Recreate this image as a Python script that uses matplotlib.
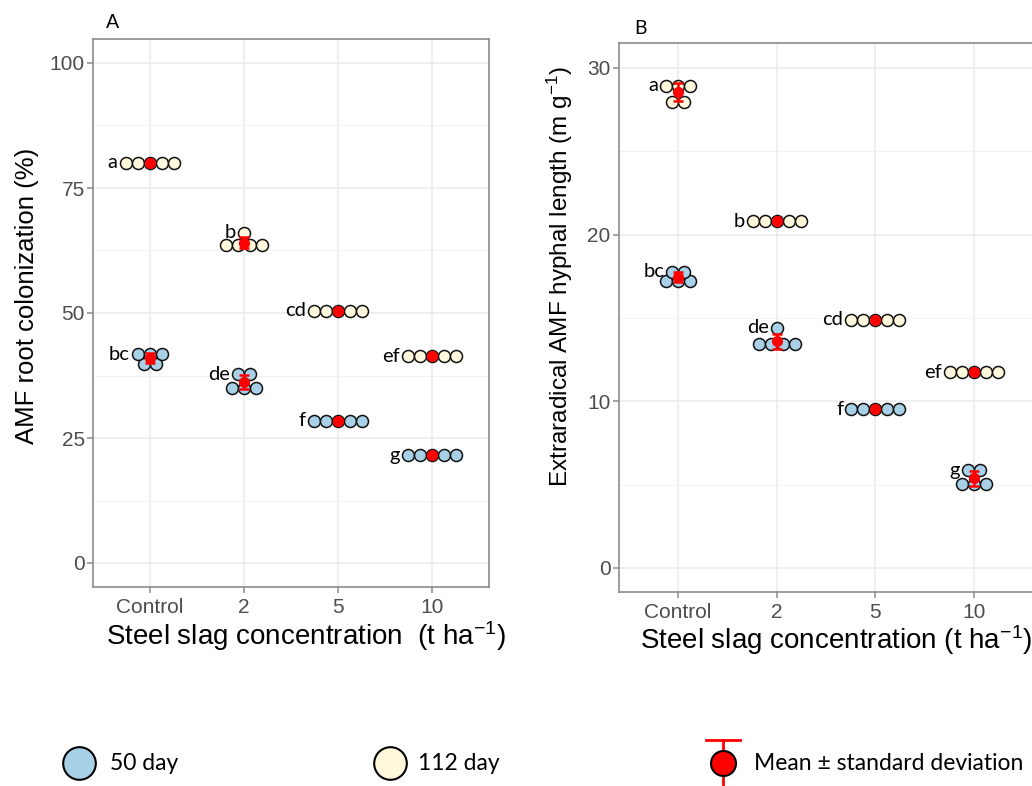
import numpy as np
import matplotlib
matplotlib.use('Agg')
import matplotlib.pyplot as plt
from matplotlib.ticker import MultipleLocator

plt.rcParams['font.family'] = ['Liberation Sans', 'DejaVu Sans']
plt.rcParams['mathtext.fontset'] = 'custom'
plt.rcParams['mathtext.rm'] = 'Liberation Sans'
plt.rcParams['mathtext.default'] = 'regular'

# Datos (5 repeticiones por tratamiento)
categorias = ['Control', '2', '5', '10']

# Panel A: colonización de raíces por AMF (%)
colon_50 = [[41.8, 41.8, 41.8, 39.9, 39.9],
            [37.8, 37.8, 35.1, 35.1, 35.1],
            [28.4, 28.4, 28.4, 28.4, 28.4],
            [21.6, 21.6, 21.6, 21.6, 21.6]]
colon_112 = [[80.0, 80.0, 80.0, 80.0, 80.0],
             [66.0, 63.6, 63.6, 63.6, 63.6],
             [50.4, 50.4, 50.4, 50.4, 50.4],
             [41.4, 41.4, 41.4, 41.4, 41.4]]
letras_colon_50 = ['bc', 'de', 'f', 'g']
letras_colon_112 = ['a', 'b', 'cd', 'ef']

# Panel B: longitud de hifas extrarradicales (m g-1)
hifas_50 = [[17.76, 17.76, 17.22, 17.22, 17.22],
            [14.41, 13.41, 13.41, 13.41, 13.41],
            [9.52, 9.52, 9.52, 9.52, 9.52],
            [5.87, 5.87, 5.03, 5.03, 5.03]]
hifas_112 = [[28.94, 28.94, 28.94, 27.94, 27.94],
             [20.79, 20.79, 20.79, 20.79, 20.79],
             [14.89, 14.89, 14.89, 14.89, 14.89],
             [11.74, 11.74, 11.74, 11.74, 11.74]]
letras_hifas_50 = ['bc', 'de', 'f', 'g']
letras_hifas_112 = ['a', 'b', 'cd', 'ef']

azul = '#A8D1E7'
crema = '#FFF8DC'
gris_txt = '#4D4D4D'
gris_borde = '#8C8C8C'

W, H = 1032, 786
fig = plt.figure(figsize=(W / 100, H / 100), dpi=100)


def px_rect(x0, y0, x1, y1):
    # convierte un rectángulo en píxeles (origen arriba) a fracción de figura
    return [x0 / W, 1 - y1 / H, (x1 - x0) / W, (y1 - y0) / H]


axA = fig.add_axes(px_rect(93, 39, 489, 587))
axB = fig.add_axes(px_rect(619, 43, 1033, 592))

DOT_PX = 12.0


def dibujar_grupo(ax, xc, valores, color, d, letra):
    vals, cuentas = np.unique(valores, return_counts=True)
    for v, n in zip(vals, cuentas):
        xs = xc + (np.arange(n) - (n - 1) / 2) * d
        ax.scatter(xs, [v] * n, s=(DOT_PX * 0.72) ** 2, color=color,
                   edgecolors='#111111', linewidths=1.1, zorder=3)
    media = np.mean(valores)
    sd = np.std(valores, ddof=1)
    ax.errorbar(xc, media, yerr=sd, fmt='o', color='red', ms=7,
                mec='red', capsize=3.5, elinewidth=1.8, capthick=1.8, zorder=5)
    top = vals.max()
    n_top = cuentas[-1]
    ax.annotate(letra, xy=(xc - n_top * d / 2, top), xytext=(-1.5, 0),
                textcoords='offset points', ha='right', va='center',
                fontsize=14.5, family=['Lato', 'DejaVu Sans'], color='black', zorder=6)


def estilo_panel(ax, ylim, minor, yticks):
    ax.set_xlim(0.4, 4.6)
    ax.set_ylim(*ylim)
    ax.set_xticks(range(1, 5))
    ax.set_xticklabels(categorias)
    ax.set_yticks(yticks)
    ax.yaxis.set_minor_locator(MultipleLocator(minor))
    ax.grid(which='major', color='#EBEBEB', linewidth=1.1)
    ax.grid(which='minor', axis='y', color='#F2F2F2', linewidth=0.7)
    ax.set_axisbelow(True)
    for s in ax.spines.values():
        s.set_color(gris_borde)
        s.set_linewidth(1.2)
    ax.tick_params(which='major', length=4, width=1.1, color=gris_borde,
                   labelsize=15, labelcolor=gris_txt, pad=2)
    ax.tick_params(axis='x', which='major', pad=4)
    ax.tick_params(which='minor', length=0)


# Panel A
estilo_panel(axA, (-4.8, 104.8), 12.5, [0, 25, 50, 75, 100])
dA = DOT_PX / (396 / 4.2)
for i in range(4):
    dibujar_grupo(axA, i + 1, colon_112[i], crema, dA, letras_colon_112[i])
    dibujar_grupo(axA, i + 1, colon_50[i], azul, dA, letras_colon_50[i])
axA.set_ylabel('AMF root colonization (%)', fontsize=18.5, va='center')
axA.yaxis.set_label_coords(-0.167, 0.532)
axA.set_xlabel('Steel slag concentration  (t ha$^{-1}$)', fontsize=20, va='center')
axA.xaxis.set_label_coords(0.538, -0.09)
fig.text(113 / W, 1 - 22 / H, 'A', fontsize=14, family=['Lato', 'DejaVu Sans'],
         ha='center', va='center')

# Panel B
estilo_panel(axB, (-1.45, 31.5), 5, [0, 10, 20, 30])
dB = DOT_PX / (414 / 4.2)
for i in range(4):
    dibujar_grupo(axB, i + 1, hifas_112[i], crema, dB, letras_hifas_112[i])
    dibujar_grupo(axB, i + 1, hifas_50[i], azul, dB, letras_hifas_50[i])
axB.set_ylabel('Extraradical AMF hyphal length (m g$^{-1}$)', fontsize=17.5, va='center')
axB.yaxis.set_label_coords(-0.143, 0.575)
axB.set_xlabel('Steel slag concentration (t ha$^{-1}$)', fontsize=20, va='center')
axB.xaxis.set_label_coords(0.524, -0.088)
fig.text(641 / W, 1 - 28 / H, 'B', fontsize=14, family=['Lato', 'DejaVu Sans'],
         ha='center', va='center')

# Leyenda inferior
axL = fig.add_axes([0, 0, 1, 1], zorder=-1)
axL.set_xlim(0, W)
axL.set_ylim(H, 0)
axL.axis('off')
fuente_ley = dict(fontsize=16.5, family=['Lato', 'DejaVu Sans'], va='center', ha='left')
axL.plot([79], [763], 'o', ms=23.5, mfc=azul, mec='black', mew=1.5)
axL.text(110, 763, '50 day', **fuente_ley)
axL.plot([390], [763], 'o', ms=23.5, mfc=crema, mec='black', mew=1.5)
axL.text(418, 763, '112 day', **fuente_ley)
axL.plot([723, 723], [740, 790], color='red', lw=2, clip_on=False)
axL.plot([706, 740], [740, 740], color='red', lw=2)
axL.plot([723], [763], 'o', ms=18, mfc='red', mec='black', mew=1.5)
axL.text(754, 763, 'Mean \u00b1 standard deviation', **fuente_ley)

fig.savefig('out.png', dpi=100)
